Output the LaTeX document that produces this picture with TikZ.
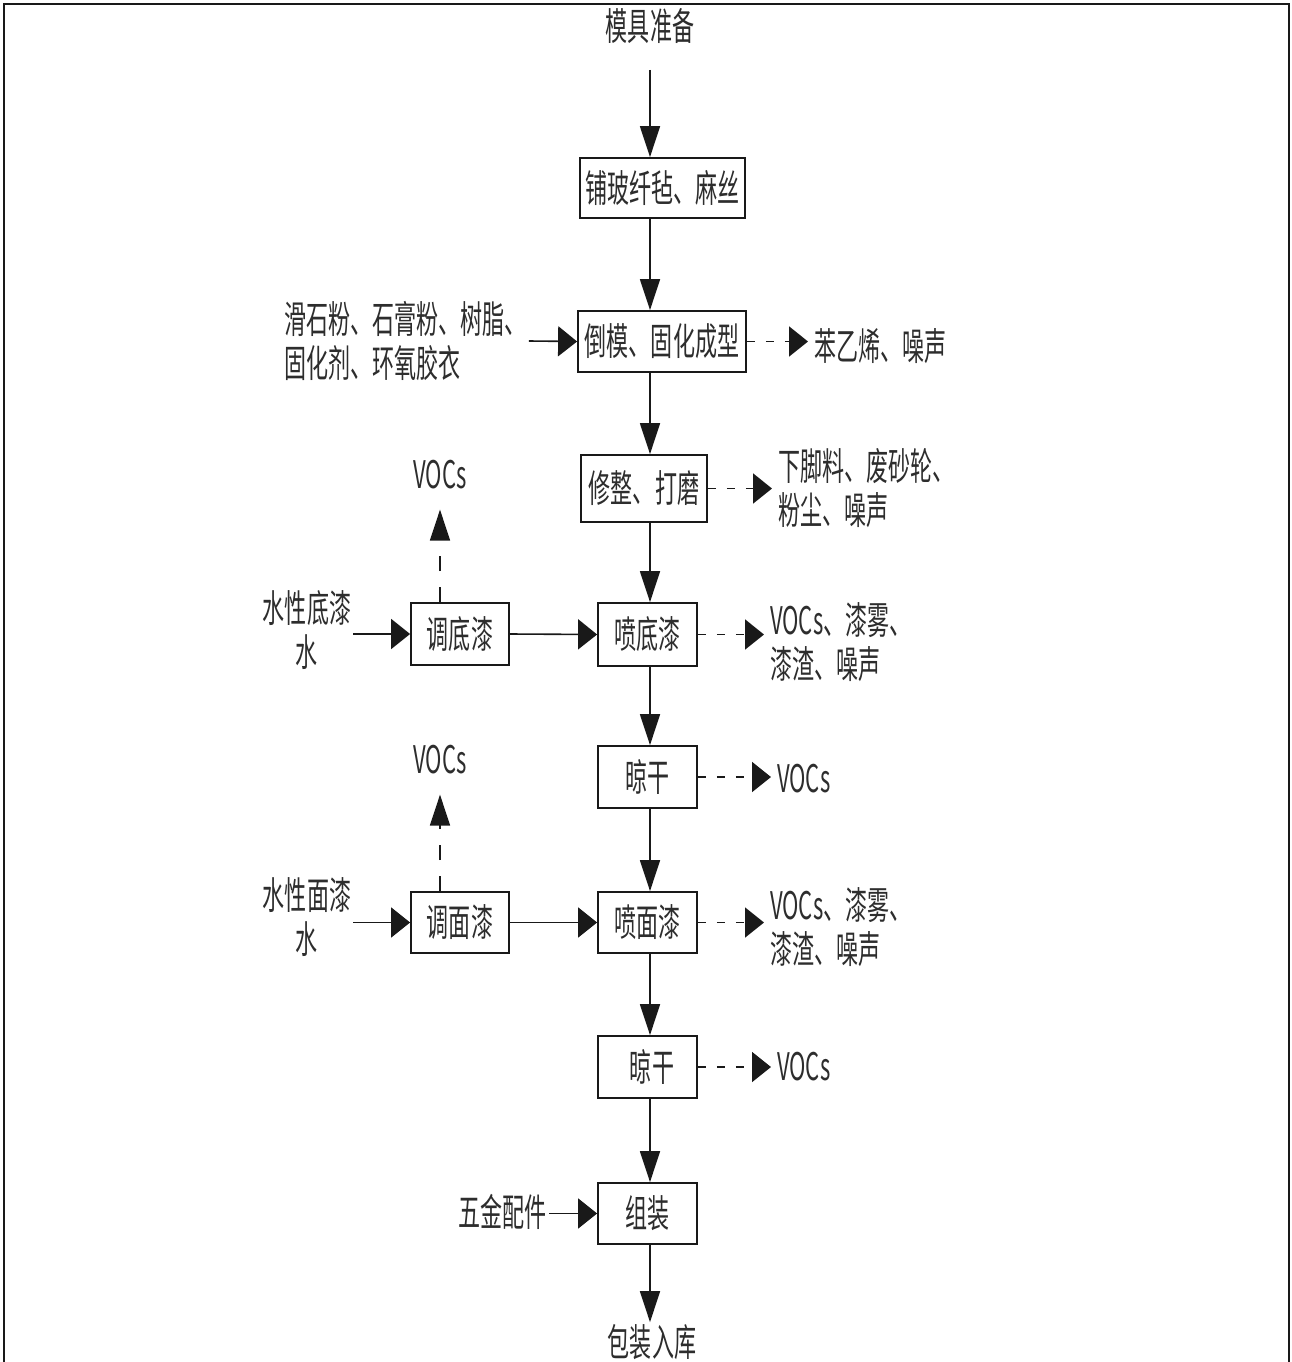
\documentclass[tikz,border=0pt]{standalone}
\usepackage{fontspec}
\setmainfont{Noto Sans CJK SC}[FakeStretch=0.58]
\usetikzlibrary{arrows.meta}
\definecolor{ink}{RGB}{25,25,25}
\definecolor{txt}{RGB}{45,45,45}

\begin{document}
\begin{tikzpicture}[x=1pt,y=-1pt,
  every node/.style={text=txt, font=\fontsize{38}{44}\selectfont, inner sep=2pt},
  box/.style={draw=ink, line width=1.8pt, inner sep=0pt},
  flow/.style={draw=ink, line width=1.6pt},
  hto/.style={flow, -{Triangle[length=19pt,width=30pt]}},
  vto/.style={flow, -{Triangle[length=31pt,width=20pt]}},
  hdash/.style={hto, line width=1.8pt, dash pattern=on 8pt off 11pt, shorten >=4pt},
  vdash/.style={vto, dash pattern=on 15pt off 16pt}]

\useasboundingbox (0,0) rectangle (1291,1362);
% outer frame
\draw[ink, line width=2pt] (4,1370) -- (4,4) -- (1289,4) -- (1289,1370);

% guide positions
\coordinate (sp) at (650,0);
\coordinate (vx) at (440,0);

% main line
\node (top) at (650,26) {模具准备};
\coordinate (s0) at (650,70);
\node[box, minimum width=165pt, minimum height=60pt] (b1) at (662.5,188) {铺玻纤毡、麻丝};
\node[box, minimum width=168pt, minimum height=61pt] (b2) at (662,341.5) {倒模、固化成型};
\node[box, minimum width=126pt, minimum height=67pt] (b3) at (644,488.5) {修整、打磨};
\node[box, minimum width=99pt, minimum height=63pt] (b4) at (647.5,634.5) {喷底漆};
\node[box, minimum width=99pt, minimum height=62pt] (b5) at (647.5,777) {晾干};
\node[box, minimum width=99pt, minimum height=61pt] (b6) at (647.5,922.5) {喷面漆};
\node[box, minimum width=99pt, minimum height=62pt] (b7) at (647.5,1067) {\hspace*{9pt}晾干};
\node[box, minimum width=99pt, minimum height=61pt] (b8) at (647.5,1213.5) {组装};
\node (end) at (652,1342) {包装入库};

% side preparation steps
\node[box, minimum width=98pt, minimum height=62pt] (t1) at (460,634) {调底漆};
\node[box, minimum width=98pt, minimum height=61pt] (t2) at (460,922.5) {调面漆};

% inputs
\node[align=left, anchor=west] (L1) at (282,341) {滑石粉、石膏粉、树脂、\\固化剂、环氧胶衣};
\node[align=center] (L4) at (307,630) {水性底漆\\水};
\node[align=center] (L6) at (307,917) {水性面漆\\水};
\node[anchor=east] (L8) at (549,1212) {五金配件};

% emissions
\node[anchor=west] (R2) at (812,346) {苯乙烯、噪声};
\node[align=left, anchor=west] (R3) at (776,488) {下脚料、废砂轮、\\粉尘、噪声};
\node[align=left, anchor=west] (R4) at (768,642) {VOCs、漆雾、\\漆渣、噪声};
\node[anchor=west] (R5) at (775,779) {VOCs};
\node[align=left, anchor=west] (R6) at (768,927) {VOCs、漆雾、\\漆渣、噪声};
\node[anchor=west] (R7) at (775,1067) {VOCs};
\node (V1) at (440,475) {VOCs};
\node (V2) at (440,760) {VOCs};

% main flow
\draw[vto] (s0) -- (b1.north -| sp);
\draw[vto] (b1.south -| sp) -- (b2.north -| sp);
\draw[vto] (b2.south -| sp) -- (b3.north -| sp);
\draw[vto] (b3.south -| sp) -- (b4.north -| sp);
\draw[vto] (b4.south -| sp) -- (b5.north -| sp);
\draw[vto] (b5.south -| sp) -- (b6.north -| sp);
\draw[vto] (b6.south -| sp) -- (b7.north -| sp);
\draw[vto] (b7.south -| sp) -- (b8.north -| sp);
\draw[vto] (b8.south -| sp) -- (end.north -| sp);

% inputs into steps
\draw[hto] (L1.east) -- (b2.west);
\draw[hto] (L4.east |- t1.west) -- (t1.west);
\draw[hto] (t1.east) -- (b4.west);
\draw[hto] (L6.east |- t2.west) -- (t2.west);
\draw[hto] (t2.east) -- (b6.west);
\draw[hto] (L8.east |- b8.west) -- (b8.west);

% emissions
\draw[hdash] (b2.east) -- (b2.east -| R2.west);
\draw[hdash] (b3.east) -- (b3.east -| R3.west);
\draw[hdash] (b4.east) -- (b4.east -| R4.west);
\draw[hdash] (b5.east) -- (b5.east -| R5.west);
\draw[hdash] (b6.east) -- (b6.east -| R6.west);
\draw[hdash] (b7.east) -- (b7.east -| R7.west);
\draw[vdash, shorten >=18pt] (t1.north -| vx) -- (V1.south -| vx);
\draw[vdash, shorten >=18pt] (t2.north -| vx) -- (V2.south -| vx);
\end{tikzpicture}
\end{document}
